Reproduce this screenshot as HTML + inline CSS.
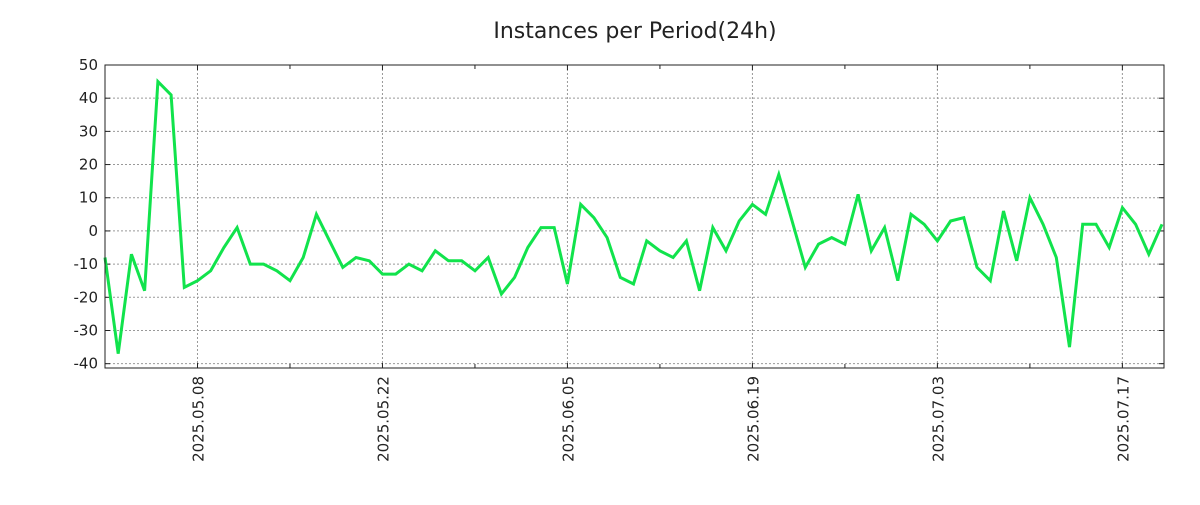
<!DOCTYPE html>
<html><head><meta charset="utf-8"><style>
body{margin:0;background:#fff;}
svg text{font-family:"DejaVu Sans","Liberation Sans",sans-serif;fill:#222;}
</style></head><body>
<svg width="1200" height="500" xmlns="http://www.w3.org/2000/svg">
<text x="635" y="38" font-size="22" text-anchor="middle">Instances per Period(24h)</text>
<g id="grid"></g>
<g id="axes"></g>
<path id="line" fill="none" stroke="#11e34c" stroke-width="3" stroke-linejoin="miter"/>
<rect x="105" y="65" width="1059" height="303" fill="none" stroke="#222" stroke-width="1"/>
</svg>
<script>
const values = [-8,-37,-7,-18,45,41,-17,-15,-12,-5,1,-10,-10,-12,-15,-8,5,-3,-11,-8,-9,-13,-13,-10,-12,-6,-9,-9,-12,-8,-19,-14,-5,1,1,-16,8,4,-2,-14,-16,-3,-6,-8,-3,-18,1,-6,3,8,5,17,3,-11,-4,-2,-4,11,-6,1,-15,5,2,-3,3,4,-11,-15,6,-9,10,2,-8,-35,2,2,-5,7,2,-7,2];
const yTicks = [50,40,30,20,10,0,-10,-20,-30,-40];
const xTickLabels = ["2025.05.08","2025.05.22","2025.06.05","2025.06.19","2025.07.03","2025.07.17"];
const xTickDays = [7,21,35,49,63,77];
const minorDays = [14,28,42,56,70];
const X0=105,X1=1164,Y0=65,Y1=368,yMax=50,yMin=-41.3,nDays=80.15;
const xs=d=>X0+(X1-X0)*d/nDays;
const ys=v=>Y0+(Y1-Y0)*(yMax-v)/(yMax-yMin);
const NS="http://www.w3.org/2000/svg";
const grid=document.getElementById('grid'),axes=document.getElementById('axes');
function mk(tag,attrs,parent){const e=document.createElementNS(NS,tag);for(const k in attrs)e.setAttribute(k,attrs[k]);parent.appendChild(e);return e;}
yTicks.forEach(v=>{
  const y=ys(v);
  const g=mk('line',{x1:X0,x2:X1,y1:y,y2:y,stroke:'#999','stroke-dasharray':'2,2'},grid);
  
  
  mk('line',{x1:X0,x2:X0+5,y1:y,y2:y,stroke:'#222'},axes);
  mk('line',{x1:X1-5,x2:X1,y1:y,y2:y,stroke:'#222'},axes);
  const t=mk('text',{x:X0-7,y:y+5,'font-size':15,'text-anchor':'end'},axes);
  t.textContent=v;
  
  
});
xTickDays.forEach((d,i)=>{
  const x=xs(d);
  const g=mk('line',{x1:x,x2:x,y1:Y0,y2:Y1,stroke:'#999','stroke-dasharray':'2,2'},grid);
  
  
  mk('line',{x1:x,x2:x,y1:Y1-5,y2:Y1,stroke:'#222'},axes);
  mk('line',{x1:x,x2:x,y1:Y0,y2:Y0+5,stroke:'#222'},axes);
  const t=mk('text',{x:x+6,y:Y1+8,'font-size':15,'text-anchor':'end',transform:`rotate(-90 ${x+6} ${Y1+8})`},axes);
  t.textContent=xTickLabels[i];
  
  
});
minorDays.forEach(d=>{const x=xs(d);mk('line',{x1:x,x2:x,y1:Y1-4,y2:Y1,stroke:'#222'},axes);mk('line',{x1:x,x2:x,y1:Y0,y2:Y0+4,stroke:'#222'},axes);});
document.getElementById('line').setAttribute('d',values.map((v,i)=>(i?'L':'M')+xs(i).toFixed(1)+','+ys(v).toFixed(1)).join(''));
</script>
</body></html>
